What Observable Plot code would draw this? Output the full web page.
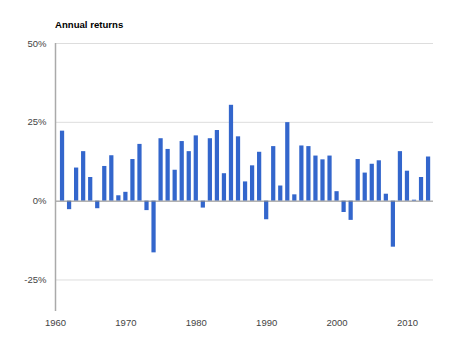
<!DOCTYPE html>
<html><head><meta charset="utf-8">
<script src="https://cdn.jsdelivr.net/npm/d3@7"></script>
<script src="https://cdn.jsdelivr.net/npm/@observablehq/plot@0.6"></script>
<style>
body{margin:0;background:#fff;font-family:"Liberation Sans",Arial,sans-serif;}
#wrap{position:relative;width:468px;height:352px;}
#title{position:absolute;left:55px;top:19px;font-size:9.6px;font-weight:bold;color:#000;}
</style></head><body>
<div id="wrap"><div id="title">Annual returns</div></div>
<script>
const years = d3.range(1961, 2014);
const returns = [22.2,-2.7,10.5,15.7,7.5,-2.4,11.0,14.4,1.7,2.8,
  13.2,18.0,-3.0,-16.4,19.8,16.4,9.8,18.9,15.7,20.7,
  -2.2,19.8,22.4,8.7,30.4,20.4,6.1,11.2,15.5,-5.9,
  17.3,4.8,24.9,2.0,17.5,17.3,14.3,13.1,14.3,3.0,
  -3.6,-6.1,13.2,8.9,11.7,12.8,2.2,-14.6,15.7,9.5,
  0.3,7.5,14.0];
const yTicks = [-25, 0, 25, 50];
const xTicks = [1960, 1970, 1980, 1990, 2000, 2010];
const data = years.map((y, i) => ({year: y, ret: returns[i]}));

const chart = Plot.plot({
  width: 468, height: 352,
  marginLeft: 55, marginRight: 35, marginTop: 43, marginBottom: 41,
  style: {fontFamily: '"Liberation Sans", Arial, sans-serif', fontSize: "9.5px", color: "#444", background: "#fff"},
  x: {domain: [1960, 2013.7], label: null},
  y: {domain: [-35, 50], label: null},
  marks: [
    Plot.ruleY(yTicks.filter(d => d !== 0), {stroke: "#ddd", strokeWidth: 1}),
    Plot.rectY(data, {x1: d => d.year - 0.3, x2: d => d.year + 0.3, y: "ret", fill: "#3366cc"}),
    Plot.ruleY([0], {stroke: "#888", strokeWidth: 1}),
    Plot.ruleX([1960], {stroke: "#aaa", strokeWidth: 1.5}),
    Plot.axisX({ticks: xTicks, tickFormat: d => String(d), tickSize: 0, tickPadding: 8, fill: "#444", label: null}),
    Plot.axisY({ticks: yTicks, tickFormat: d => d + "%", tickSize: 0, tickPadding: 9, fill: "#444", label: null})
  ]
});
document.getElementById("wrap").prepend(chart);
</script>
</body></html>
